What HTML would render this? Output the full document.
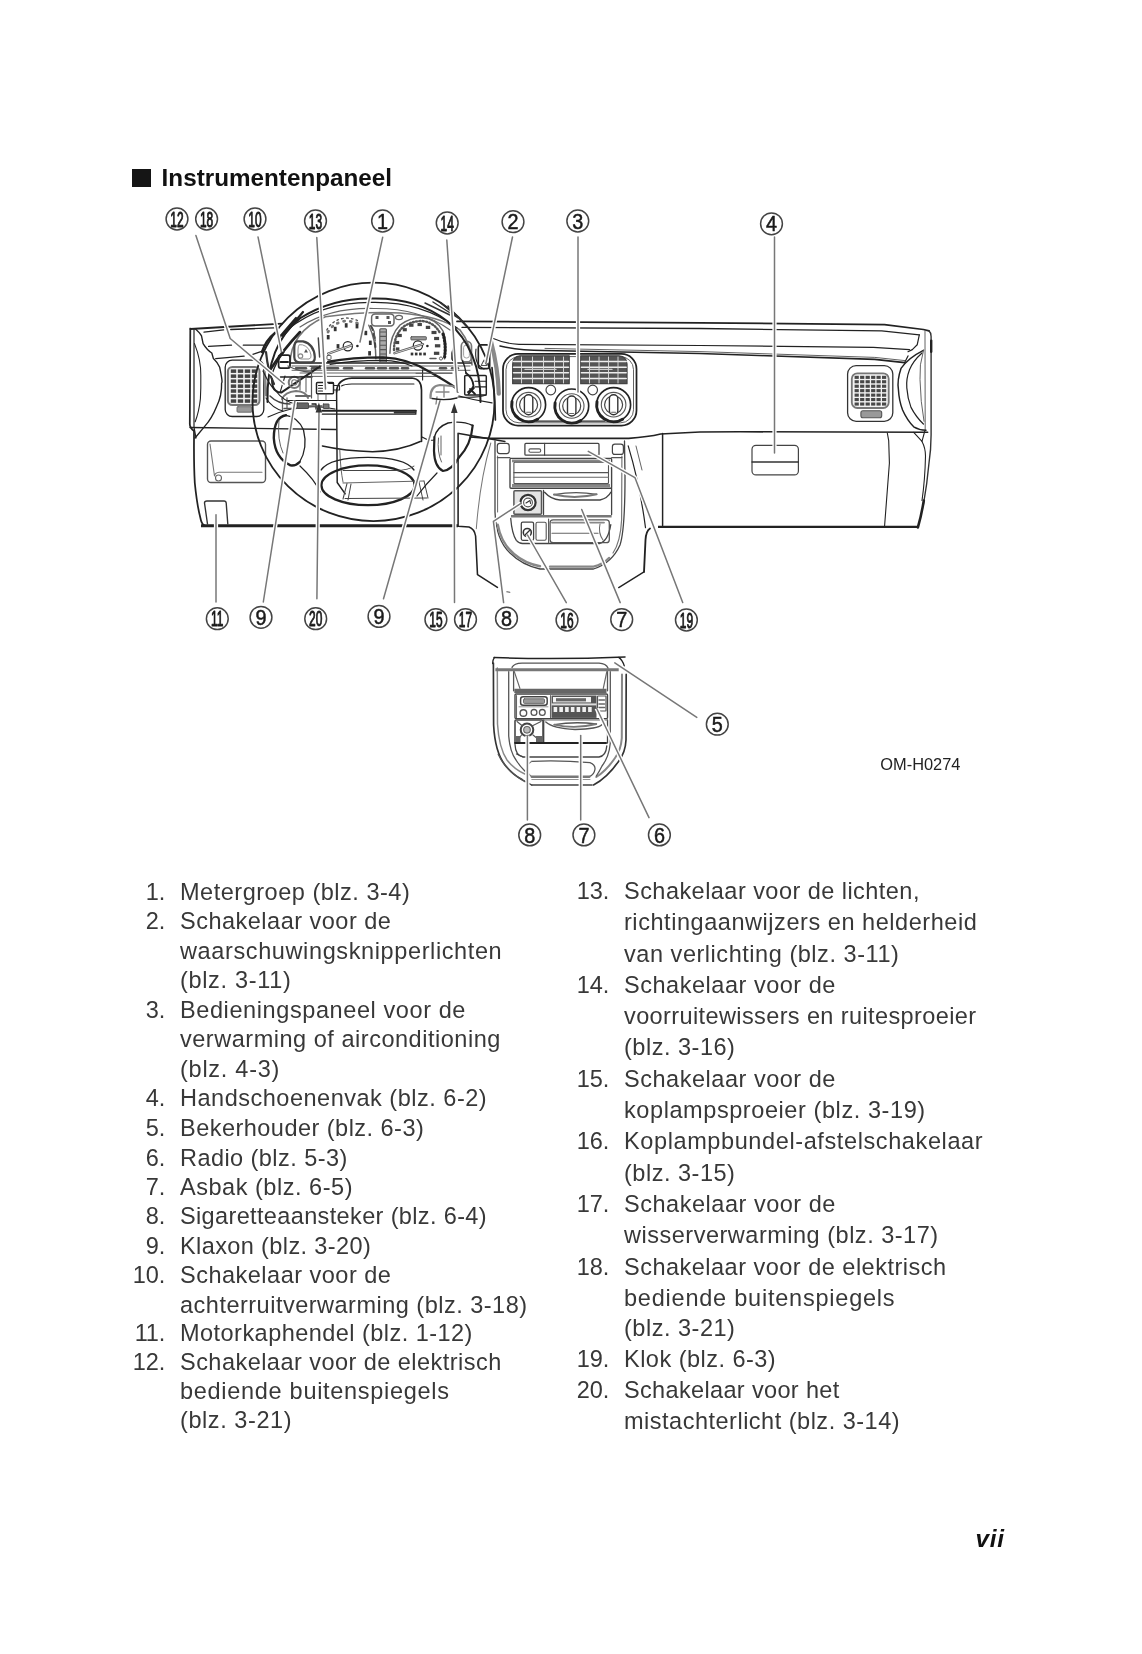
<!DOCTYPE html>
<html><head><meta charset="utf-8"><title>Instrumentenpaneel</title>
<style>
html,body{margin:0;padding:0;background:#fff;}
body{width:1142px;height:1654px;position:relative;overflow:hidden;font-family:"Liberation Sans", sans-serif;color:#222;}
.t{position:absolute;white-space:nowrap;font-size:24.5px;line-height:28px;height:28px;transform:scaleX(0.96);transform-origin:0 0;color:#383838;}
.n{letter-spacing:-0.2px;transform-origin:100% 0;}
.n{text-align:right;}
#h{position:absolute;left:161.6px;top:163.5px;font-size:24.25px;line-height:28px;font-weight:bold;color:#111;white-space:nowrap;}
#sq{position:absolute;left:132px;top:169px;width:19px;height:18px;background:#151515;}
#om{position:absolute;left:880.3px;top:754.6px;font-size:16.4px;line-height:18px;color:#222;white-space:nowrap;}
#pg{position:absolute;left:975.4px;top:1525px;letter-spacing:0.8px;font-size:24.3px;line-height:28px;font-weight:bold;font-style:italic;color:#111;white-space:nowrap;}
svg{position:absolute;left:0;top:0;}
#wrap{position:absolute;left:0;top:0;width:1142px;height:1654px;filter:blur(0.4px);}
</style></head><body><div id="wrap">
<div id="sq"></div><div id="h">Instrumentenpaneel</div>
<div class="t n" style="top:878.2px;left:105.30000000000001px;width:60px">1.</div>
<div class="t" style="top:878.2px;left:180.1px;letter-spacing:0.529px">Metergroep (blz. 3-4)</div>
<div class="t n" style="top:907.3px;left:105.30000000000001px;width:60px">2.</div>
<div class="t" style="top:907.3px;left:180.1px;letter-spacing:0.504px">Schakelaar voor de</div>
<div class="t" style="top:936.7px;left:180.1px;letter-spacing:0.632px">waarschuwingsknipperlichten</div>
<div class="t" style="top:966.2px;left:180.1px;letter-spacing:0.686px">(blz. 3-11)</div>
<div class="t n" style="top:995.8px;left:105.30000000000001px;width:60px">3.</div>
<div class="t" style="top:995.8px;left:180.1px;letter-spacing:0.609px">Bedieningspaneel voor de</div>
<div class="t" style="top:1025.3px;left:180.1px;letter-spacing:0.538px">verwarming of airconditioning</div>
<div class="t" style="top:1054.6px;left:180.1px;letter-spacing:0.765px">(blz. 4-3)</div>
<div class="t n" style="top:1084.2px;left:105.30000000000001px;width:60px">4.</div>
<div class="t" style="top:1084.2px;left:180.1px;letter-spacing:0.521px">Handschoenenvak (blz. 6-2)</div>
<div class="t n" style="top:1113.9px;left:105.30000000000001px;width:60px">5.</div>
<div class="t" style="top:1113.9px;left:180.1px;letter-spacing:0.485px">Bekerhouder (blz. 6-3)</div>
<div class="t n" style="top:1143.6px;left:105.30000000000001px;width:60px">6.</div>
<div class="t" style="top:1143.6px;left:180.1px;letter-spacing:0.449px">Radio (blz. 5-3)</div>
<div class="t n" style="top:1172.9px;left:105.30000000000001px;width:60px">7.</div>
<div class="t" style="top:1172.9px;left:180.1px;letter-spacing:0.541px">Asbak (blz. 6-5)</div>
<div class="t n" style="top:1202.2px;left:105.30000000000001px;width:60px">8.</div>
<div class="t" style="top:1202.2px;left:180.1px;letter-spacing:0.366px">Sigaretteaansteker (blz. 6-4)</div>
<div class="t n" style="top:1231.6px;left:105.30000000000001px;width:60px">9.</div>
<div class="t" style="top:1231.6px;left:180.1px;letter-spacing:0.395px">Klaxon (blz. 3-20)</div>
<div class="t n" style="top:1261.3px;left:105.30000000000001px;width:60px">10.</div>
<div class="t" style="top:1261.3px;left:180.1px;letter-spacing:0.504px">Schakelaar voor de</div>
<div class="t" style="top:1290.6px;left:180.1px;letter-spacing:0.506px">achterruitverwarming (blz. 3-18)</div>
<div class="t n" style="top:1319.4px;left:105.30000000000001px;width:60px">11.</div>
<div class="t" style="top:1319.4px;left:180.1px;letter-spacing:0.472px">Motorkaphendel (blz. 1-12)</div>
<div class="t n" style="top:1348.1px;left:105.30000000000001px;width:60px">12.</div>
<div class="t" style="top:1348.1px;left:180.1px;letter-spacing:0.473px">Schakelaar voor de elektrisch</div>
<div class="t" style="top:1376.9px;left:180.1px;letter-spacing:0.726px">bediende buitenspiegels</div>
<div class="t" style="top:1406.1px;left:180.1px;letter-spacing:0.586px">(blz. 3-21)</div>
<div class="t n" style="top:877.1px;left:549.2px;width:60px">13.</div>
<div class="t" style="top:877.1px;left:624.4px;letter-spacing:0.469px">Schakelaar voor de lichten,</div>
<div class="t" style="top:908.1px;left:624.4px;letter-spacing:0.564px">richtingaanwijzers en helderheid</div>
<div class="t" style="top:939.9px;left:624.4px;letter-spacing:0.554px">van verlichting (blz. 3-11)</div>
<div class="t n" style="top:971.3px;left:549.2px;width:60px">14.</div>
<div class="t" style="top:971.3px;left:624.4px;letter-spacing:0.539px">Schakelaar voor de</div>
<div class="t" style="top:1002.0px;left:624.4px;letter-spacing:0.396px">voorruitewissers en ruitesproeier</div>
<div class="t" style="top:1033.3px;left:624.4px;letter-spacing:0.526px">(blz. 3-16)</div>
<div class="t n" style="top:1064.6px;left:549.2px;width:60px">15.</div>
<div class="t" style="top:1064.6px;left:624.4px;letter-spacing:0.539px">Schakelaar voor de</div>
<div class="t" style="top:1096.0px;left:624.4px;letter-spacing:0.594px">koplampsproeier (blz. 3-19)</div>
<div class="t n" style="top:1127.3px;left:549.2px;width:60px">16.</div>
<div class="t" style="top:1127.3px;left:624.4px;letter-spacing:0.623px">Koplampbundel-afstelschakelaar</div>
<div class="t" style="top:1159.0px;left:624.4px;letter-spacing:0.526px">(blz. 3-15)</div>
<div class="t n" style="top:1189.8px;left:549.2px;width:60px">17.</div>
<div class="t" style="top:1189.8px;left:624.4px;letter-spacing:0.539px">Schakelaar voor de</div>
<div class="t" style="top:1221.1px;left:624.4px;letter-spacing:0.521px">wisserverwarming (blz. 3-17)</div>
<div class="t n" style="top:1252.5px;left:549.2px;width:60px">18.</div>
<div class="t" style="top:1252.5px;left:624.4px;letter-spacing:0.502px">Schakelaar voor de elektrisch</div>
<div class="t" style="top:1283.5px;left:624.4px;letter-spacing:0.801px">bediende buitenspiegels</div>
<div class="t" style="top:1314.3px;left:624.4px;letter-spacing:0.526px">(blz. 3-21)</div>
<div class="t n" style="top:1344.7px;left:549.2px;width:60px">19.</div>
<div class="t" style="top:1344.7px;left:624.4px;letter-spacing:0.492px">Klok (blz. 6-3)</div>
<div class="t n" style="top:1375.7px;left:549.2px;width:60px">20.</div>
<div class="t" style="top:1375.7px;left:624.4px;letter-spacing:0.351px">Schakelaar voor het</div>
<div class="t" style="top:1406.6px;left:624.4px;letter-spacing:0.515px">mistachterlicht (blz. 3-14)</div>
<div id="om">OM-H0274</div>
<div id="pg">vii</div>
<svg width="1142" height="1654" viewBox="0 0 1142 1654" font-family="Liberation Sans, sans-serif" stroke-linecap="round" stroke-linejoin="round">
<path d="M190.5 329 L282 323.6" stroke="#222" stroke-width="1.84" fill="none" />
<path d="M204 332.2 L223.6 329.9 M230.7 329.5 L273.7 327.9" stroke="#222" stroke-width="1.29" fill="none" />
<path d="M457 321.4 L700 322.8 L884.5 324.6 L923.4 329.5 L929 330.9" stroke="#222" stroke-width="1.75" fill="none" />
<path d="M462 327.4 L700 328.5 L881.7 330.9 L919.3 334.8" stroke="#222" stroke-width="1.29" fill="none" />
<path d="M492 338 Q505 344 519 344.3 L700 345.5 L873.4 347.3 L909.5 349.6" stroke="#222" stroke-width="1.20" fill="none" />
<path d="M500 346 Q520 350.5 543.5 350.5 L700 353.5 L874.8 359.4 L904.7 362.6" stroke="#222" stroke-width="1.56" fill="none" />
<path d="M545 348.4 L700 351.6 L874.8 357.4 L905 360.6" stroke="#555" stroke-width="0.92" fill="none" />
<path d="M190.3 328.5 L189.8 424 Q189.8 428 194 431 L194 440 Q193.8 465 194.8 483 Q197 505 200.4 518 Q201.5 524 204 525" stroke="#222" stroke-width="1.75" fill="none" />
<path d="M195.2 328.7 Q200 333 201.5 335.8 L203.1 343.6 Q207 350 211.8 353 L213.4 358.6 Q218 363 219.7 367.3 Q223 383 221.6 383 Q222 396 216.5 406.7 Q212 418 204.7 426.4 L195 438" stroke="#222" stroke-width="1.38" fill="none" />
<path d="M194.5 343.6 Q201 360 200.8 375.2 Q201 388 200.4 398.8 Q199 412 195.2 421.7" stroke="#222" stroke-width="1.10" fill="none" />
<path d="M194 328.7 L194 427 L196 438" stroke="#222" stroke-width="1.20" fill="none" />
<path d="M190 427.5 L336 429.5" stroke="#222" stroke-width="1.38" fill="none" />
<path d="M201 525.7 L458 525.7" stroke="#222" stroke-width="3.13" fill="none" stroke-linecap="butt"/>
<path d="M458.1 433.3 L458.1 526.3 L469 527 Q474.5 529 475.6 536 L477.5 574.7 L497.4 587.4" stroke="#222" stroke-width="1.56" fill="none" />
<path d="M208.6 346.4 L231.5 345.2 M243.3 345.2 L264.6 345.2" stroke="#222" stroke-width="1.29" fill="none" />
<path d="M215.7 358.6 L244.1 356.2 M252.8 354.3 L263.8 350.7" stroke="#222" stroke-width="1.29" fill="none" />
<path d="M207.5 524 L204.5 503 Q204.5 501 207 501 L224 501 Q226 501 226.2 503 L227.8 524" stroke="#333" stroke-width="1.38" fill="none" />
<rect x="207.5" y="441" width="58.0" height="41.5" rx="3.5" stroke="#555" stroke-width="1.38" fill="none"/>
<path d="M210 444 L214.5 476 Q215 472.5 219 472.2 L262 472.2" stroke="#777" stroke-width="1.10" fill="none" />
<circle cx="218.5" cy="478" r="3" stroke="#666" stroke-width="1.10" fill="none"/>
<rect x="225.2" y="360.2" width="38.6" height="56.3" rx="7" stroke="#222" stroke-width="1.29" fill="none"/>
<rect x="227.9" y="366.9" width="31.6" height="38.2" rx="4.5" stroke="#777" stroke-width="2.02" fill="#f2f2f2"/>
<rect x="230.8" y="369.4" width="5.4" height="3.5" fill="#444"/>
<rect x="237.8" y="369.4" width="5.4" height="3.5" fill="#444"/>
<rect x="244.8" y="369.4" width="5.4" height="3.5" fill="#444"/>
<rect x="251.8" y="369.4" width="5.4" height="3.5" fill="#444"/>
<rect x="230.8" y="374.4" width="5.4" height="3.5" fill="#444"/>
<rect x="237.8" y="374.4" width="5.4" height="3.5" fill="#444"/>
<rect x="244.8" y="374.4" width="5.4" height="3.5" fill="#444"/>
<rect x="251.8" y="374.4" width="5.4" height="3.5" fill="#444"/>
<rect x="230.8" y="379.4" width="5.4" height="3.5" fill="#444"/>
<rect x="237.8" y="379.4" width="5.4" height="3.5" fill="#444"/>
<rect x="244.8" y="379.4" width="5.4" height="3.5" fill="#444"/>
<rect x="251.8" y="379.4" width="5.4" height="3.5" fill="#444"/>
<rect x="230.8" y="384.4" width="5.4" height="3.5" fill="#444"/>
<rect x="237.8" y="384.4" width="5.4" height="3.5" fill="#444"/>
<rect x="244.8" y="384.4" width="5.4" height="3.5" fill="#444"/>
<rect x="251.8" y="384.4" width="5.4" height="3.5" fill="#444"/>
<rect x="230.8" y="389.3" width="5.4" height="3.5" fill="#444"/>
<rect x="237.8" y="389.3" width="5.4" height="3.5" fill="#444"/>
<rect x="244.8" y="389.3" width="5.4" height="3.5" fill="#444"/>
<rect x="251.8" y="389.3" width="5.4" height="3.5" fill="#444"/>
<rect x="230.8" y="394.3" width="5.4" height="3.5" fill="#444"/>
<rect x="237.8" y="394.3" width="5.4" height="3.5" fill="#444"/>
<rect x="244.8" y="394.3" width="5.4" height="3.5" fill="#444"/>
<rect x="251.8" y="394.3" width="5.4" height="3.5" fill="#444"/>
<rect x="230.8" y="399.3" width="5.4" height="3.5" fill="#444"/>
<rect x="237.8" y="399.3" width="5.4" height="3.5" fill="#444"/>
<rect x="244.8" y="399.3" width="5.4" height="3.5" fill="#444"/>
<rect x="251.8" y="399.3" width="5.4" height="3.5" fill="#444"/>
<rect x="237" y="406.7" width="15.0" height="5.5" rx="1" stroke="#666" stroke-width="0.92" fill="#999"/>
<path d="M264.5 372 L266 395" stroke="#888" stroke-width="2.76" fill="none" />
<path d="M662.6 433.5 L662.6 525.4" stroke="#222" stroke-width="1.47" fill="none" />
<path d="M658 526.9 L918 526.9" stroke="#222" stroke-width="2.39" fill="none" stroke-linecap="butt"/>
<path d="M887.3 433 L888.7 440.7 L889.4 463 L884.5 527" stroke="#222" stroke-width="1.10" fill="none" />
<rect x="752" y="445.3" width="46.4" height="29.6" rx="4" stroke="#444" stroke-width="1.20" fill="none"/>
<line x1="752" y1="462" x2="798.4" y2="462" stroke="#333" stroke-width="1.29"/>
<path d="M929 330.9 Q931 332.5 931.1 336.4 L931.1 435 Q931 450 929 463 Q927 485 923.4 504.7" stroke="#333" stroke-width="1.38" fill="none" />
<path d="M931.2 340.6 L931.2 351.7" stroke="#222" stroke-width="2.39" fill="none" />
<path d="M923.8 500.5 Q921.5 515 917.9 527.4" stroke="#222" stroke-width="2.58" fill="none" />
<path d="M925 330.9 L925.2 429.6" stroke="#555" stroke-width="0.92" fill="none" />
<path d="M919.3 334.8 L917.2 344.8 L912.3 349.6 L908 351.7" stroke="#222" stroke-width="1.20" fill="none" />
<path d="M908 355.9 L904.7 362.6" stroke="#222" stroke-width="1.20" fill="none" />
<path d="M923.4 350.3 Q908 358 901 368.4 Q897 380 898.4 389.3 Q899 401 902.6 410 Q907 420 913.7 426.8 Q919 430 926 430.3" stroke="#222" stroke-width="1.47" fill="none" />
<path d="M922 353 Q913 361 909.5 369.8 Q906 379 906.8 387.9 Q907.5 398 911 407.4 Q916 417 923.4 424" stroke="#222" stroke-width="1.20" fill="none" />
<path d="M923.6 350 Q919 365 920 379.5 Q920.5 402 924 421.3" stroke="#555" stroke-width="0.92" fill="none" />
<path d="M913.7 432.4 L922 441.4 L924.8 431" stroke="#222" stroke-width="1.10" fill="none" />
<path d="M922 441.4 Q925.5 448 925.5 456 Q925 480 922 500.5" stroke="#222" stroke-width="1.10" fill="none" />
<rect x="847.6" y="365.6" width="45.2" height="55.7" rx="8.5" stroke="#333" stroke-width="1.29" fill="none"/>
<rect x="851.8" y="373.3" width="36.9" height="34.7" rx="5.5" stroke="#777" stroke-width="1.84" fill="#f2f2f2"/>
<rect x="854.6" y="375.8" width="4.2" height="3.1" fill="#484848"/>
<rect x="860.1" y="375.8" width="4.2" height="3.1" fill="#484848"/>
<rect x="865.6" y="375.8" width="4.2" height="3.1" fill="#484848"/>
<rect x="871.1" y="375.8" width="4.2" height="3.1" fill="#484848"/>
<rect x="876.5" y="375.8" width="4.2" height="3.1" fill="#484848"/>
<rect x="882.0" y="375.8" width="4.2" height="3.1" fill="#484848"/>
<rect x="854.6" y="380.2" width="4.2" height="3.1" fill="#484848"/>
<rect x="860.1" y="380.2" width="4.2" height="3.1" fill="#484848"/>
<rect x="865.6" y="380.2" width="4.2" height="3.1" fill="#484848"/>
<rect x="871.1" y="380.2" width="4.2" height="3.1" fill="#484848"/>
<rect x="876.5" y="380.2" width="4.2" height="3.1" fill="#484848"/>
<rect x="882.0" y="380.2" width="4.2" height="3.1" fill="#484848"/>
<rect x="854.6" y="384.7" width="4.2" height="3.1" fill="#484848"/>
<rect x="860.1" y="384.7" width="4.2" height="3.1" fill="#484848"/>
<rect x="865.6" y="384.7" width="4.2" height="3.1" fill="#484848"/>
<rect x="871.1" y="384.7" width="4.2" height="3.1" fill="#484848"/>
<rect x="876.5" y="384.7" width="4.2" height="3.1" fill="#484848"/>
<rect x="882.0" y="384.7" width="4.2" height="3.1" fill="#484848"/>
<rect x="854.6" y="389.1" width="4.2" height="3.1" fill="#484848"/>
<rect x="860.1" y="389.1" width="4.2" height="3.1" fill="#484848"/>
<rect x="865.6" y="389.1" width="4.2" height="3.1" fill="#484848"/>
<rect x="871.1" y="389.1" width="4.2" height="3.1" fill="#484848"/>
<rect x="876.5" y="389.1" width="4.2" height="3.1" fill="#484848"/>
<rect x="882.0" y="389.1" width="4.2" height="3.1" fill="#484848"/>
<rect x="854.6" y="393.6" width="4.2" height="3.1" fill="#484848"/>
<rect x="860.1" y="393.6" width="4.2" height="3.1" fill="#484848"/>
<rect x="865.6" y="393.6" width="4.2" height="3.1" fill="#484848"/>
<rect x="871.1" y="393.6" width="4.2" height="3.1" fill="#484848"/>
<rect x="876.5" y="393.6" width="4.2" height="3.1" fill="#484848"/>
<rect x="882.0" y="393.6" width="4.2" height="3.1" fill="#484848"/>
<rect x="854.6" y="398.0" width="4.2" height="3.1" fill="#484848"/>
<rect x="860.1" y="398.0" width="4.2" height="3.1" fill="#484848"/>
<rect x="865.6" y="398.0" width="4.2" height="3.1" fill="#484848"/>
<rect x="871.1" y="398.0" width="4.2" height="3.1" fill="#484848"/>
<rect x="876.5" y="398.0" width="4.2" height="3.1" fill="#484848"/>
<rect x="882.0" y="398.0" width="4.2" height="3.1" fill="#484848"/>
<rect x="854.6" y="402.5" width="4.2" height="3.1" fill="#484848"/>
<rect x="860.1" y="402.5" width="4.2" height="3.1" fill="#484848"/>
<rect x="865.6" y="402.5" width="4.2" height="3.1" fill="#484848"/>
<rect x="871.1" y="402.5" width="4.2" height="3.1" fill="#484848"/>
<rect x="876.5" y="402.5" width="4.2" height="3.1" fill="#484848"/>
<rect x="882.0" y="402.5" width="4.2" height="3.1" fill="#484848"/>
<rect x="860.9" y="410.8" width="20.8" height="7.0" rx="2" stroke="#555" stroke-width="1.10" fill="#999"/>
<path d="M290 365 Q290 332 325.4 316.8 Q366 311 400 313 Q440 316 460 330 Q472 345 472 365" stroke="#777" stroke-width="1.66" fill="none" />
<path d="M290 363 L471 363" stroke="#222" stroke-width="1.47" fill="none" />
<path d="M292 366 L470 366 M292 370.3 L470 370.3" stroke="#555" stroke-width="0.92" fill="none" />
<line x1="296" y1="368.2" x2="306" y2="368.2" stroke="#555" stroke-width="2.39"/>
<line x1="312" y1="368.2" x2="320" y2="368.2" stroke="#555" stroke-width="2.39"/>
<line x1="326" y1="368.2" x2="338" y2="368.2" stroke="#555" stroke-width="2.39"/>
<line x1="344" y1="368.2" x2="352" y2="368.2" stroke="#555" stroke-width="2.39"/>
<line x1="366" y1="368.2" x2="374" y2="368.2" stroke="#555" stroke-width="2.39"/>
<line x1="378" y1="368.2" x2="386" y2="368.2" stroke="#555" stroke-width="2.39"/>
<line x1="390" y1="368.2" x2="398" y2="368.2" stroke="#555" stroke-width="2.39"/>
<line x1="402" y1="368.2" x2="408" y2="368.2" stroke="#555" stroke-width="2.39"/>
<line x1="440" y1="368.2" x2="446" y2="368.2" stroke="#555" stroke-width="2.39"/>
<line x1="452" y1="368.2" x2="458" y2="368.2" stroke="#555" stroke-width="2.39"/>
<path d="M300 373 L452 373 M300 376.4 L440 376.4" stroke="#555" stroke-width="0.92" fill="none" />
<path d="M326.8 330 Q332 320 345 318 Q354 318 360 322" stroke="#555" stroke-width="1.38" fill="none" stroke-dasharray="1.6 3.2"/>
<path d="M328 332 Q333 323 345 321 Q353 321 359 324" stroke="#777" stroke-width="2.76" fill="none" stroke-dasharray="1 5.5"/>
<rect x="333.8" y="326.8" width="2.8" height="4.4" fill="#333"/>
<rect x="344.8" y="323.2" width="2.8" height="4.4" fill="#333"/>
<rect x="355.6" y="324.0" width="2.8" height="4.4" fill="#333"/>
<rect x="364.40000000000003" y="330.8" width="2.8" height="4.4" fill="#333"/>
<rect x="368.90000000000003" y="340.6" width="2.8" height="4.4" fill="#333"/>
<rect x="368.20000000000005" y="351.1" width="2.8" height="4.4" fill="#333"/>
<rect x="326.8" y="335.0" width="2.8" height="4.4" fill="#333"/>
<rect x="336.6" y="344.1" width="2.8" height="4.4" fill="#333"/>
<path d="M368.8 325.2 Q375.9 340 375.9 358.8" stroke="#666" stroke-width="1.47" fill="none" />
<path d="M371 326 L373 330 M373.5 334 L374.7 338 M375 343 L375.4 347" stroke="#444" stroke-width="2.02" fill="none" />
<circle cx="347.8" cy="346.2" r="4.6" stroke="#222" stroke-width="1.20" fill="none"/>
<path d="M328.2 353.6 L352 345.2" stroke="#555" stroke-width="2.39" fill="none" />
<path d="M328.2 353.6 L352 345.2" stroke="#fff" stroke-width="0.74" fill="none" />
<circle cx="357.4" cy="346" r="1.3" stroke="#222" stroke-width="0.00" fill="#222"/>
<rect x="327" y="355.5" width="4.0" height="4.0" rx="0.5" stroke="#555" stroke-width="0.92" fill="none"/>
<rect x="379.8" y="328.7" width="6.6" height="33.6" rx="1" stroke="#555" stroke-width="1.10" fill="#aaa"/>
<line x1="380.4" y1="332.0" x2="385.8" y2="332.0" stroke="#555" stroke-width="1.10"/>
<line x1="380.4" y1="336.4" x2="385.8" y2="336.4" stroke="#555" stroke-width="1.10"/>
<line x1="380.4" y1="340.8" x2="385.8" y2="340.8" stroke="#555" stroke-width="1.10"/>
<line x1="380.4" y1="345.2" x2="385.8" y2="345.2" stroke="#555" stroke-width="1.10"/>
<line x1="380.4" y1="349.6" x2="385.8" y2="349.6" stroke="#555" stroke-width="1.10"/>
<line x1="380.4" y1="354.0" x2="385.8" y2="354.0" stroke="#555" stroke-width="1.10"/>
<line x1="380.4" y1="358.4" x2="385.8" y2="358.4" stroke="#555" stroke-width="1.10"/>
<rect x="371.6" y="314" width="22.4" height="12.0" rx="3.5" stroke="#666" stroke-width="1.47" fill="none"/>
<rect x="375.5" y="316.0" width="3" height="3" fill="#555"/>
<rect x="386.5" y="316.0" width="3" height="3" fill="#555"/>
<rect x="388.0" y="321.0" width="3" height="3" fill="#555"/>
<ellipse cx="399" cy="317.5" rx="3.5" ry="2.1" stroke="#666" stroke-width="1.20" fill="none"/>
<path d="M389.9 353.2 Q390 335 400 325 Q410 317.5 422 317.5 Q436 318.5 443 331 Q447.5 342 444.5 358.8" stroke="#666" stroke-width="1.47" fill="none" />
<path d="M394 350 Q394 336 402.5 327.5 Q411 321 422 321 Q434 322 440 333" stroke="#555" stroke-width="2.39" fill="none" stroke-dasharray="1.1 2.2"/>
<path d="M443 334 Q446.3 345 444.6 357" stroke="#222" stroke-width="3.13" fill="none" stroke-dasharray="1.2 2"/>
<rect x="397.40000000000003" y="333.9" width="4.4" height="3.2" fill="#444"/>
<rect x="395.2" y="340.9" width="4" height="3.2" fill="#444"/>
<rect x="395.8" y="347.4" width="3.6" height="3.2" fill="#444"/>
<rect x="402.8" y="328.09999999999997" width="4" height="3.2" fill="#444"/>
<rect x="409.1" y="323.59999999999997" width="4.4" height="3.2" fill="#444"/>
<rect x="417.5" y="322.9" width="4.4" height="3.2" fill="#444"/>
<rect x="425.8" y="325.79999999999995" width="4.4" height="3.2" fill="#444"/>
<rect x="431.5" y="330.9" width="5" height="3.2" fill="#444"/>
<rect x="434.1" y="336.9" width="5" height="3.2" fill="#444"/>
<rect x="434.90000000000003" y="344.2" width="5.4" height="3.2" fill="#444"/>
<rect x="433.90000000000003" y="351.7" width="5.4" height="3.2" fill="#444"/>
<rect x="410.9" y="336.7" width="15.4" height="3.2" rx="0.5" stroke="#555" stroke-width="0.92" fill="#999"/>
<circle cx="417.9" cy="345.5" r="4.6" stroke="#222" stroke-width="1.20" fill="none"/>
<path d="M394.5 353.2 L423 344.2" stroke="#555" stroke-width="2.39" fill="none" />
<path d="M394.5 353.2 L423 344.2" stroke="#fff" stroke-width="0.74" fill="none" />
<circle cx="427.4" cy="346" r="1.3" stroke="#222" stroke-width="0.00" fill="#222"/>
<rect x="410.7" y="352.6" width="2.6" height="2.8" fill="#333"/>
<rect x="414.9" y="352.6" width="2.6" height="2.8" fill="#333"/>
<rect x="419.09999999999997" y="352.6" width="2.6" height="2.8" fill="#333"/>
<rect x="423.3" y="352.6" width="2.6" height="2.8" fill="#333"/>
<path d="M430 358.5 L436 358.5" stroke="#555" stroke-width="1.47" fill="none" />
<circle cx="441" cy="358.5" r="1.6" stroke="#555" stroke-width="0.92" fill="none"/>
<path d="M297.5 341.4 Q294.3 342 294.3 348 L294.3 357 Q294.5 362.4 300 362.4 L311 362.4 Q315 362 314.8 357 Q314 344 303 341.4 Z" stroke="#444" stroke-width="2.21" fill="none" />
<path d="M299 345 Q298 346 298 350 L298 356 Q298 359 301 359 L309 359 Q311.5 358.5 311 355 Q309.5 347 303 345 Z" stroke="#888" stroke-width="0.92" fill="none" />
<path d="M306 349 L308 352.5 L304 352.5 Z" fill="#555"/>
<circle cx="300.5" cy="356" r="2.2" stroke="#888" stroke-width="1.20" fill="none"/>
<rect x="461.3" y="341.4" width="10.2" height="20.5" rx="4.5" stroke="#777" stroke-width="1.66" fill="none"/>
<rect x="463.6" y="345" width="5.8" height="13.0" rx="2.6" stroke="#999" stroke-width="0.92" fill="none"/>
<path d="M453.8 347.5 Q451.5 353 452.2 359 Q453 361.5 455.5 361" stroke="#333" stroke-width="2.02" fill="none" />
<path d="M374 331 L375.2 341" stroke="#555" stroke-width="1.29" fill="none" />
<path d="M318.3 338 L319.6 357" stroke="#444" stroke-width="1.47" fill="none" />
<ellipse cx="373.5" cy="401.9" rx="121" ry="119.2" stroke="#222" stroke-width="1.84" fill="none"/>
<path d="M267.5 402 Q266 345 300.5 318 Q333 297.5 373.5 298.5 Q418 298 447 321 Q481 350 480.5 402" stroke="#222" stroke-width="2.02" fill="none" />
<path d="M287 330 Q322 301.5 373.5 302.4 Q423 302 457 328" stroke="#222" stroke-width="1.29" fill="none" />
<path d="M300 327 Q330 307.5 373.5 308.5 Q420 308 450 330" stroke="#666" stroke-width="1.20" fill="none" />
<path d="M425 303 L452 316 M433 302 L458 318 M441 303 L462 321 M448 306 L466 326" stroke="#333" stroke-width="1.47" fill="none" />
<path d="M296 318 L278 339 M303 312 L283 336" stroke="#222" stroke-width="2.21" fill="none" />
<path d="M262 352 Q266 340 275 333" stroke="#222" stroke-width="2.39" fill="none" />
<path d="M270 370 Q283 350 300 332" stroke="#222" stroke-width="2.58" fill="none" />
<path d="M272 374 Q276 362 284 352" stroke="#222" stroke-width="1.29" fill="none" />
<path d="M491 341.5 Q498 368 498.8 393.7" stroke="#8a8a8a" stroke-width="4.23" fill="none" />
<path d="M492 367.6 Q495 395 495.4 420" stroke="#222" stroke-width="1.66" fill="none" />
<path d="M328.2 361.8 Q352 357.4 383 357.4 Q408 358.5 429 371.5 Q446 381 457.9 389.2" stroke="#222" stroke-width="2.39" fill="none" />
<path d="M330 364.5 Q352 360.4 383 360.4 Q400 361 412 366" stroke="#222" stroke-width="1.10" fill="none" />
<path d="M336.6 392 Q337 379 351.8 378.2 L412 378 Q421.5 379 421.5 390 L421.5 441.5" stroke="#222" stroke-width="1.66" fill="none" />
<path d="M341.5 386 Q344 384.2 351.8 384 L414 384" stroke="#222" stroke-width="1.01" fill="none" />
<path d="M322.4 446 Q345 451 372.5 451.7 Q400 451 420.3 441.5" stroke="#222" stroke-width="1.47" fill="none" />
<path d="M322.4 410.7 L415.8 410.7" stroke="#222" stroke-width="2.02" fill="none" />
<path d="M322.4 414.2 L415.8 414.2 L415.8 410.7" stroke="#222" stroke-width="1.29" fill="none" />
<path d="M395 412.4 L415 412.4" stroke="#333" stroke-width="2.39" fill="none" />
<path d="M336.6 390 L337.2 482.5 L345.2 493.8" stroke="#222" stroke-width="1.47" fill="none" />
<path d="M339.8 450 Q340.5 470 343 482" stroke="#555" stroke-width="0.92" fill="none" />
<ellipse cx="368" cy="485.3" rx="46.6" ry="19.9" stroke="#222" stroke-width="2.30" fill="none"/>
<path d="M321 470 Q330 457.5 368 457.4 Q405 457.5 414 470" stroke="#222" stroke-width="1.29" fill="none" />
<path d="M345 498.4 L427 498" stroke="#444" stroke-width="1.01" fill="none" />
<path d="M343 470.5 L395 470.5 Q410 470 414 466" stroke="#444" stroke-width="1.01" fill="none" />
<path d="M347 483.5 L343 499 M351 484 L348 500" stroke="#444" stroke-width="1.01" fill="none" />
<path d="M424 481 L428 498 M419 482 L423 500" stroke="#444" stroke-width="1.01" fill="none" />
<path d="M343 483 L424 481" stroke="#555" stroke-width="0.92" fill="none" />
<path d="M286 415.3 Q274 417 273.8 438 Q275 458 290.5 465.4 Q296 466 299.6 462" stroke="#222" stroke-width="2.39" fill="none" />
<path d="M286 415.3 Q298 417 303.5 430 Q308 448 299.6 462" stroke="#222" stroke-width="1.29" fill="none" />
<path d="M279 420 Q277 440 283 453" stroke="#555" stroke-width="0.92" fill="none" />
<path d="M472.7 425.5 Q471 445 459 457.4 Q452 470 443 471 Q434.5 467 434 451 L434.4 437" stroke="#222" stroke-width="2.21" fill="none" />
<path d="M434.4 437 Q437 427 448 423 Q462 420.5 472.7 425.5" stroke="#222" stroke-width="1.38" fill="none" />
<path d="M438.5 438 Q437 452 441.5 462 M441 436 L441 455" stroke="#555" stroke-width="0.92" fill="none" />
<path d="M268 417 Q300 402 335 409" stroke="#222" stroke-width="1.20" fill="none" />
<path d="M300 466 Q315 480 320 492" stroke="#222" stroke-width="1.20" fill="none" />
<path d="M437 473 Q426 484 417 496" stroke="#222" stroke-width="1.20" fill="none" />
<path d="M459 433.5 L505 441.5" stroke="#222" stroke-width="1.29" fill="none" />
<path d="M459 396 Q475 400.5 492 402.9" stroke="#222" stroke-width="1.29" fill="none" />
<path d="M422 437 Q428 441 434 440" stroke="#222" stroke-width="1.10" fill="none" />
<path d="M272 379 Q272 388 275.5 390.5 Q278 392.6 281.2 392.6 L319.9 366.4" stroke="#222" stroke-width="2.02" fill="none" />
<path d="M280 392.6 L285 376" stroke="#222" stroke-width="1.10" fill="none" />
<circle cx="294.3" cy="382.4" r="5.6" stroke="#777" stroke-width="2.02" fill="none"/>
<circle cx="294.3" cy="382.4" r="2.6" stroke="#777" stroke-width="1.10" fill="none"/>
<path d="M280.5 377 L312 377" stroke="#222" stroke-width="1.29" fill="none" />
<path d="M282 399 Q285 392 296 391 Q306 391.5 308 398" stroke="#777" stroke-width="2.02" fill="none" />
<path d="M282.5 399 L282.5 410 M287 398 L287 408" stroke="#666" stroke-width="1.29" fill="none" />
<rect x="297" y="402.9" width="11.5" height="5.6" rx="0.5" stroke="#444" stroke-width="0.92" fill="#666"/>
<path d="M288 400.5 L336 400.5" stroke="#222" stroke-width="1.20" fill="none" />
<path d="M310 366.4 L318 366.4 M311.5 368.5 L311.5 398" stroke="#555" stroke-width="1.20" fill="none" />
<rect x="316.5" y="382.4" width="17.0" height="11.3" rx="1" stroke="#222" stroke-width="1.47" fill="none"/>
<path d="M318.5 385.5 L322.5 385.5 M318.5 388.2 L322.5 388.2 M318.5 391 L322.5 391" stroke="#222" stroke-width="1.10" fill="none" />
<path d="M329 383 L333 383" stroke="#222" stroke-width="1.84" fill="none" />
<path d="M333.5 385.5 L339.5 385.5 L339.5 390 L333.5 390" stroke="#222" stroke-width="1.20" fill="none" />
<path d="M318 394 L318 400 M326 394 L326 400" stroke="#555" stroke-width="0.92" fill="none" />
<rect x="323.3" y="404" width="5.7" height="4.5" rx="0.3" stroke="#444" stroke-width="0.92" fill="#777"/>
<path d="M312 404 L316 404 L316 409" stroke="#222" stroke-width="1.29" fill="none" />
<rect x="278.6" y="355" width="11.4" height="13.0" rx="2" stroke="#222" stroke-width="1.75" fill="none"/>
<path d="M280.6 362 L288 362" stroke="#222" stroke-width="2.02" fill="none" />
<path d="M263 371 Q270 386 275 390 Q284 402 296 404" stroke="#222" stroke-width="1.20" fill="none" />
<path d="M266 398 Q272 408 283 411" stroke="#222" stroke-width="1.10" fill="none" />
<path d="M266 352 Q268 372 274 384" stroke="#333" stroke-width="2.21" fill="none" />
<path d="M270 396 Q278 404 290 404" stroke="#444" stroke-width="1.47" fill="none" />
<path d="M288 366 Q300 372 310 372" stroke="#555" stroke-width="1.29" fill="none" />
<path d="M300 377 L300 390 M306 377 L306 392" stroke="#666" stroke-width="1.10" fill="none" />
<path d="M296 396 L310 396" stroke="#666" stroke-width="2.02" fill="none" />
<path d="M284 408.5 L296 408.5 M309 406 L322 406" stroke="#555" stroke-width="1.47" fill="none" />
<path d="M430.5 398 Q430 386 440 385 L452 386 Q458 387 457.9 392" stroke="#888" stroke-width="2.21" fill="none" />
<path d="M436 392 L449 392 M444 386 L444 397 M437 397 L436 404" stroke="#888" stroke-width="1.38" fill="none" />
<path d="M432 398.5 Q445 401 457 398" stroke="#222" stroke-width="1.29" fill="none" />
<rect x="464.7" y="375.5" width="21.6" height="19.4" rx="1" stroke="#222" stroke-width="1.47" fill="none"/>
<path d="M475 381.2 L486 381.2 M475 386.9 L486 386.9" stroke="#222" stroke-width="1.10" fill="none" />
<path d="M466 373 Q473 378 473.5 386 Q472 390 468 392 M470 389 L475 394 M474 388 L468.5 394" stroke="#222" stroke-width="1.84" fill="none" />
<path d="M466 373 Q465 366 462.5 361" stroke="#222" stroke-width="1.47" fill="none" />
<path d="M486.3 395 Q478 398 458 397" stroke="#222" stroke-width="1.20" fill="none" />
<rect x="478.3" y="344.8" width="11.4" height="23.9" rx="3" stroke="#222" stroke-width="1.66" fill="none"/>
<path d="M481.2 365.5 L484 360 L486.8 365.5 Z" stroke="#555" stroke-width="1.01" fill="none" />
<path d="M476 349 Q474 365 484 369" stroke="#222" stroke-width="1.10" fill="none" />
<path d="M422.6 369.8 L422.6 380" stroke="#222" stroke-width="1.10" fill="none" />
<path d="M416 373.3 L452 373.3" stroke="#555" stroke-width="0.92" fill="none" />
<rect x="503" y="353.9" width="133.5" height="71.7" rx="15" stroke="#222" stroke-width="1.75" fill="none"/>
<rect x="506" y="356.6" width="127.5" height="66.2" rx="13" stroke="#555" stroke-width="0.92" fill="none"/>
<path d="M520 355.8 L569.2 355.8 L569.2 383.7 L512.7 383.7 L512.7 364 Q513 356.5 520 355.8 Z" stroke="#444" stroke-width="1.29" fill="#555" />
<path d="M580.6 355.8 L619 355.8 Q626.6 356.5 627 364 L627 383.7 L580.6 383.7 Z" stroke="#444" stroke-width="1.29" fill="#555" />
<line x1="513.5" y1="361.6" x2="568.5" y2="361.6" stroke="#eee" stroke-width="1.47"/>
<line x1="581.4" y1="361.6" x2="626.2" y2="361.6" stroke="#eee" stroke-width="1.47"/>
<line x1="513.5" y1="367.2" x2="568.5" y2="367.2" stroke="#eee" stroke-width="1.47"/>
<line x1="581.4" y1="367.2" x2="626.2" y2="367.2" stroke="#eee" stroke-width="1.47"/>
<line x1="513.5" y1="372.8" x2="568.5" y2="372.8" stroke="#eee" stroke-width="1.47"/>
<line x1="581.4" y1="372.8" x2="626.2" y2="372.8" stroke="#eee" stroke-width="1.47"/>
<line x1="513.5" y1="378.4" x2="568.5" y2="378.4" stroke="#eee" stroke-width="1.47"/>
<line x1="581.4" y1="378.4" x2="626.2" y2="378.4" stroke="#eee" stroke-width="1.47"/>
<line x1="521.5" y1="357" x2="521.5" y2="383" stroke="#ddd" stroke-width="0.92"/>
<line x1="532.5" y1="357" x2="532.5" y2="383" stroke="#ddd" stroke-width="0.92"/>
<line x1="543.5" y1="357" x2="543.5" y2="383" stroke="#ddd" stroke-width="0.92"/>
<line x1="554.5" y1="357" x2="554.5" y2="383" stroke="#ddd" stroke-width="0.92"/>
<line x1="563.5" y1="357" x2="563.5" y2="383" stroke="#ddd" stroke-width="0.92"/>
<line x1="589.5" y1="357" x2="589.5" y2="383" stroke="#ddd" stroke-width="0.92"/>
<line x1="599" y1="357" x2="599" y2="383" stroke="#ddd" stroke-width="0.92"/>
<line x1="608.5" y1="357" x2="608.5" y2="383" stroke="#ddd" stroke-width="0.92"/>
<line x1="618" y1="357" x2="618" y2="383" stroke="#ddd" stroke-width="0.92"/>
<line x1="525" y1="369.4" x2="556" y2="369.4" stroke="#ccc" stroke-width="1.29"/>
<line x1="588" y1="369.4" x2="612" y2="369.4" stroke="#ccc" stroke-width="1.29"/>
<circle cx="528.6" cy="404.7" r="17" stroke="#222" stroke-width="1.66" fill="none"/>
<path d="M512.0 401.7 A17 17 0 0 0 537.6 419.3" stroke="#222" stroke-width="3" fill="none"/>
<circle cx="528.6" cy="404.7" r="12.3" stroke="#555" stroke-width="1.10" fill="none"/>
<circle cx="528.6" cy="404.7" r="9" stroke="#444" stroke-width="1.20" fill="none"/>
<rect x="524.4" y="394.7" width="8.4" height="20.0" rx="4" stroke="#333" stroke-width="1.38" fill="#fff"/>
<line x1="526.6" y1="412.2" x2="530.6" y2="412.2" stroke="#666" stroke-width="1.10"/>
<circle cx="571.7" cy="406" r="17" stroke="#222" stroke-width="1.66" fill="none"/>
<path d="M555.1 403 A17 17 0 0 0 580.7 420.6" stroke="#222" stroke-width="3" fill="none"/>
<circle cx="571.7" cy="406" r="12.3" stroke="#555" stroke-width="1.10" fill="none"/>
<circle cx="571.7" cy="406" r="9" stroke="#444" stroke-width="1.20" fill="none"/>
<rect x="567.5" y="396" width="8.4" height="20.0" rx="4" stroke="#333" stroke-width="1.38" fill="#fff"/>
<line x1="569.7" y1="413.5" x2="573.7" y2="413.5" stroke="#666" stroke-width="1.10"/>
<circle cx="613.6" cy="404.7" r="17" stroke="#222" stroke-width="1.66" fill="none"/>
<path d="M597.0 401.7 A17 17 0 0 0 622.6 419.3" stroke="#222" stroke-width="3" fill="none"/>
<circle cx="613.6" cy="404.7" r="12.3" stroke="#555" stroke-width="1.10" fill="none"/>
<circle cx="613.6" cy="404.7" r="9" stroke="#444" stroke-width="1.20" fill="none"/>
<rect x="609.4" y="394.7" width="8.4" height="20.0" rx="4" stroke="#333" stroke-width="1.38" fill="#fff"/>
<line x1="611.6" y1="412.2" x2="615.6" y2="412.2" stroke="#666" stroke-width="1.10"/>
<path d="M536 421.2 L563 421.2 M581 421.2 L605 421.2" stroke="#222" stroke-width="1.29" fill="none" />
<circle cx="550.8" cy="390" r="4.8" stroke="#444" stroke-width="1.20" fill="none"/>
<circle cx="592.7" cy="390" r="4.8" stroke="#444" stroke-width="1.20" fill="none"/>
<path d="M470 437 L489 438.4 L628.8 438.4 Q648 437 660.6 434 L700 432 L740 431.8 L927.7 432.2" stroke="#222" stroke-width="1.56" fill="none" />
<path d="M495 441 L495 512 Q496 540 510 553 Q522 565 540 569 L593.5 569 Q612 563 620 545 Q625 530 625 477 L624.5 441" stroke="#444" stroke-width="1.29" fill="none" />
<path d="M497.6 456 L497.6 512" stroke="#666" stroke-width="1.01" fill="none" />
<path d="M497.8 524.6 Q501 543 514 554 Q525 563.5 540 566.2" stroke="#888" stroke-width="2.39" fill="none" />
<path d="M550 566.6 L593.5 566.6 Q603 564.5 609 558" stroke="#888" stroke-width="2.39" fill="none" />
<path d="M613 553 Q620.5 542 621.6 520 L621.9 456" stroke="#777" stroke-width="1.20" fill="none" />
<rect x="497.3" y="443.4" width="11.9" height="10.2" rx="2.5" stroke="#444" stroke-width="1.20" fill="none"/>
<rect x="612.4" y="444.2" width="11.0" height="10.2" rx="2.5" stroke="#444" stroke-width="1.20" fill="none"/>
<rect x="524.9" y="443.4" width="74.1" height="11.8" rx="1" stroke="#444" stroke-width="1.29" fill="none"/>
<line x1="544.6" y1="443.4" x2="544.6" y2="455.2" stroke="#444" stroke-width="1.10"/>
<rect x="528.9" y="448.9" width="11.8" height="3.3" rx="1.5" stroke="#555" stroke-width="1.10" fill="none"/>
<path d="M497.3 457.6 L510 457.6 M611.6 457.6 L622 457.6" stroke="#555" stroke-width="1.10" fill="none" />
<rect x="510" y="458.4" width="101.6" height="29.9" rx="1" stroke="#444" stroke-width="1.38" fill="none"/>
<path d="M512 460.9 L610 460.9" stroke="#888" stroke-width="2.76" fill="none" stroke-linecap="butt"/>
<path d="M512 485.6 L610 485.6" stroke="#888" stroke-width="3.13" fill="none" stroke-linecap="butt"/>
<rect x="513.9" y="462.3" width="94.6" height="21.3" rx="1" stroke="#555" stroke-width="1.10" fill="none"/>
<line x1="513.9" y1="472.6" x2="608.5" y2="472.6" stroke="#555" stroke-width="1.20"/>
<line x1="513.9" y1="477.3" x2="608.5" y2="477.3" stroke="#666" stroke-width="1.10"/>
<rect x="513.9" y="490.7" width="27.6" height="23.6" rx="1" stroke="#555" stroke-width="1.47" fill="#e4e4e4"/>
<circle cx="528" cy="502.5" r="7.6" stroke="#333" stroke-width="2.21" fill="#fff"/>
<circle cx="528" cy="502.5" r="4.4" stroke="#555" stroke-width="1.10" fill="none"/>
<path d="M526 503 L530 500.5 L530.5 503.5" stroke="#333" stroke-width="1.10" fill="none" />
<path d="M543.5 490.5 L543.5 514.5 M611.6 488 L611.6 514.5" stroke="#444" stroke-width="1.29" fill="none" />
<path d="M544.6 492.3 Q551 499.5 560 500 L600 500 Q608 498 610.8 492.3" stroke="#444" stroke-width="1.38" fill="none" />
<path d="M554 494.6 Q575 491 596.6 494.3" stroke="#555" stroke-width="1.20" fill="none" />
<path d="M554 494.6 Q575 499.6 596.6 494.3" stroke="#777" stroke-width="2.02" fill="none" />
<path d="M511 516.2 L611.6 516.2" stroke="#777" stroke-width="2.39" fill="none" stroke-linecap="butt"/>
<path d="M510.7 518.3 Q512 534 516.3 540.3 Q519 543.5 522.6 543.5 L599.8 543.5 Q608 541 610.8 524.6" stroke="#444" stroke-width="1.29" fill="none" />
<rect x="521.3" y="522.2" width="12.3" height="18.1" rx="1.5" stroke="#444" stroke-width="1.29" fill="none"/>
<rect x="536" y="522.2" width="10.2" height="18.1" rx="1.5" stroke="#555" stroke-width="1.10" fill="none"/>
<line x1="548.6" y1="519" x2="548.6" y2="543" stroke="#555" stroke-width="1.10"/>
<rect x="550.1" y="519.8" width="59.2" height="22.9" rx="3" stroke="#555" stroke-width="1.29" fill="none"/>
<path d="M552 533.2 L598 533.2" stroke="#666" stroke-width="1.10" fill="none" />
<path d="M552 522.6 L604 522.6" stroke="#888" stroke-width="1.84" fill="none" />
<path d="M600 524 Q598 533 603 540" stroke="#666" stroke-width="1.01" fill="none" />
<circle cx="527.3" cy="532.5" r="4" stroke="#333" stroke-width="1.56" fill="none"/>
<path d="M525.5 534.5 L529.5 530.5" stroke="#333" stroke-width="1.29" fill="none" />
<path d="M490.8 443 Q480 480 476.3 528.8" stroke="#777" stroke-width="1.01" fill="none" />
<path d="M628.2 445.8 Q640 485 645.5 527.7" stroke="#222" stroke-width="1.20" fill="none" />
<path d="M636 446 L642 470" stroke="#555" stroke-width="0.92" fill="none" />
<path d="M650 528.5 Q646 531 645.5 540 L644 571.9" stroke="#222" stroke-width="1.84" fill="none" />
<path d="M644 571.9 L618.7 587.6" stroke="#222" stroke-width="1.38" fill="none" />
<path d="M506.8 591.8 L509.8 592.3" stroke="#555" stroke-width="1.10" fill="none" />
<path d="M494 657.6 Q560 659.6 625 656.9" stroke="#222" stroke-width="1.47" fill="none" />
<path d="M494.5 657.4 Q492.5 660 492.6 663.5" stroke="#222" stroke-width="1.29" fill="none" />
<path d="M618.7 657.4 Q622.5 660 624.3 666" stroke="#222" stroke-width="1.29" fill="none" />
<path d="M493.4 663 L493.6 725 Q495 752 505 765 Q513 775 522 779.5" stroke="#333" stroke-width="1.66" fill="none" />
<path d="M497.3 668 L497.5 724 Q499 748 507 760 Q514 769 524.8 774" stroke="#888" stroke-width="1.47" fill="none" />
<path d="M626.2 674.4 L626 740 Q625.5 752 618.7 761.3 Q607 778 593.5 785" stroke="#333" stroke-width="1.66" fill="none" />
<path d="M622 674.4 L621.8 738 Q621 750 615 758 Q606 771 596.3 777" stroke="#888" stroke-width="2.02" fill="none" />
<path d="M531.8 785.1 L592 785.1" stroke="#444" stroke-width="1.47" fill="none" />
<path d="M522 779.5 L531.8 785.1" stroke="#444" stroke-width="1.29" fill="none" />
<path d="M508.7 671.6 L508.7 736 Q510 752 516 760 Q520 766.5 524.8 771" stroke="#555" stroke-width="1.29" fill="none" />
<path d="M610.3 671.6 L610.3 743 Q609 757 602 766 Q599 772 596.3 776" stroke="#555" stroke-width="1.29" fill="none" />
<path d="M495.4 669.8 L618.7 669.8" stroke="#777" stroke-width="2.94" fill="none" stroke-linecap="butt"/>
<path d="M512 667.4 Q514 663.4 522 663.2 L599 663.2 Q606 663.6 608 668" stroke="#555" stroke-width="1.29" fill="none" />
<path d="M513.6 671.6 L513.6 690.8 M607.5 671.6 L607.5 690.8" stroke="#555" stroke-width="1.29" fill="none" />
<path d="M514.3 671.6 L519.9 688.4 M606.8 671.6 L603.3 688.4" stroke="#666" stroke-width="1.20" fill="none" />
<path d="M514.3 690.8 L606.5 690.8" stroke="#666" stroke-width="4.23" fill="none" stroke-linecap="butt"/>
<rect x="515" y="694" width="92.5" height="24.6" rx="1" stroke="#444" stroke-width="1.38" fill="none"/>
<rect x="520.6" y="696.8" width="26.6" height="8.4" rx="2.5" stroke="#444" stroke-width="1.47" fill="none"/>
<rect x="523.5" y="698.8" width="21.0" height="4.6" rx="1" stroke="#666" stroke-width="0.92" fill="#999"/>
<path d="M516.5 695.5 L516.5 717.5 M550.5 695.5 L550.5 717.5" stroke="#666" stroke-width="1.10" fill="none" />
<circle cx="523.4" cy="713" r="3.3" stroke="#555" stroke-width="1.38" fill="none"/>
<circle cx="534" cy="712.4" r="2.9" stroke="#555" stroke-width="1.29" fill="none"/>
<circle cx="542.3" cy="712.4" r="2.9" stroke="#555" stroke-width="1.29" fill="none"/>
<path d="M519 706.8 L548 706.8" stroke="#888" stroke-width="0.92" fill="none" />
<rect x="551.5" y="695.5" width="45" height="22.4" fill="#555"/>
<rect x="553" y="697" width="38" height="5.4" fill="#f4f4f4"/>
<rect x="556" y="698.2" width="30" height="3.2" fill="#666"/>
<rect x="553.6" y="707" width="3.6" height="5" fill="#f0f0f0"/>
<rect x="559.35" y="707" width="3.6" height="5" fill="#f0f0f0"/>
<rect x="565.1" y="707" width="3.6" height="5" fill="#f0f0f0"/>
<rect x="570.85" y="707" width="3.6" height="5" fill="#f0f0f0"/>
<rect x="576.6" y="707" width="3.6" height="5" fill="#f0f0f0"/>
<rect x="582.35" y="707" width="3.6" height="5" fill="#f0f0f0"/>
<rect x="588.1" y="707" width="3.6" height="5" fill="#f0f0f0"/>
<rect x="551.5" y="703.4" width="45" height="2" fill="#ddd"/>
<rect x="597.5" y="696" width="8.5" height="15.0" rx="0.5" stroke="#555" stroke-width="1.20" fill="none"/>
<path d="M599 700 L604.5 700 M599 704 L604.5 704 M599 707.5 L604.5 707.5" stroke="#666" stroke-width="1.47" fill="none" />
<rect x="515" y="720" width="28.0" height="23.0" rx="1" stroke="#444" stroke-width="1.56" fill="none"/>
<circle cx="527" cy="729.8" r="6.3" stroke="#444" stroke-width="2.02" fill="none"/>
<circle cx="527" cy="729.8" r="3.3" stroke="#666" stroke-width="1.10" fill="#bbb"/>
<path d="M517 721.5 L522.5 726 M541 721.5 L532 726 M517 741.5 L521.5 735 M541 741.5 L533 735" stroke="#555" stroke-width="1.10" fill="none" />
<rect x="515.5" y="736" width="5" height="6.5" fill="#666"/>
<rect x="536" y="736" width="6.5" height="6.5" fill="#666"/>
<path d="M543.7 720 L543.7 743 M607.5 720 L607.5 743" stroke="#444" stroke-width="1.29" fill="none" />
<path d="M543.7 720 L607.5 720" stroke="#666" stroke-width="1.10" fill="none" />
<path d="M545.8 722 Q553 728.5 575 729.5 Q598 729 601.8 724.8" stroke="#555" stroke-width="1.38" fill="none" />
<path d="M554.3 724.6 Q575 721.2 596.3 724" stroke="#555" stroke-width="1.29" fill="none" />
<path d="M554.3 724.6 Q575 729.4 596.3 724" stroke="#777" stroke-width="1.84" fill="none" />
<path d="M515 743 L606 743" stroke="#222" stroke-width="2.21" fill="none" />
<path d="M515 744.5 Q515.5 756 523.4 757 L599 757 Q606 756 606.8 745.9" stroke="#444" stroke-width="1.29" fill="none" />
<path d="M516.5 754 L523 757" stroke="#444" stroke-width="1.29" fill="none" />
<path d="M531.8 761.3 Q560 760 590 762.6 Q595.8 765 594.9 769.7 Q594 775 589.3 776.7" stroke="#555" stroke-width="1.29" fill="none" />
<path d="M531.8 776.7 L589.3 776.7" stroke="#777" stroke-width="2.39" fill="none" />
<path d="M531.8 779.5 L590 779.5" stroke="#888" stroke-width="0.92" fill="none" />
<path d="M531.8 761.3 Q527 764 527.2 769 Q527.6 774 531.8 776.7" stroke="#777" stroke-width="1.10" fill="none" />
<path d="M498.2 754.3 Q505 770 524.8 781.6" stroke="#555" stroke-width="1.29" fill="none" />
<path d="M195.9 235.5 L230.2 338.5 L284.2 384" stroke="#fff" stroke-width="4.20" fill="none" stroke-linecap="butt"/>
<path d="M195.9 235.5 L230.2 338.5 L284.2 384" stroke="#777" stroke-width="1.50" fill="none" />
<path d="M258 236.9 L281.4 351.8" stroke="#fff" stroke-width="4.20" fill="none" stroke-linecap="butt"/>
<path d="M258 236.9 L281.4 351.8" stroke="#777" stroke-width="1.50" fill="none" />
<path d="M316.8 237.6 L325.5 388.9" stroke="#fff" stroke-width="4.20" fill="none" stroke-linecap="butt"/>
<path d="M316.8 237.6 L325.5 388.9" stroke="#777" stroke-width="1.50" fill="none" />
<path d="M382.7 237.2 L360 342" stroke="#fff" stroke-width="4.20" fill="none" stroke-linecap="butt"/>
<path d="M382.7 237.2 L360 342" stroke="#777" stroke-width="1.50" fill="none" />
<path d="M446.8 240 L457.3 392" stroke="#fff" stroke-width="4.20" fill="none" stroke-linecap="butt"/>
<path d="M446.8 240 L457.3 392" stroke="#777" stroke-width="1.50" fill="none" />
<path d="M512.5 237 L486 363" stroke="#fff" stroke-width="4.20" fill="none" stroke-linecap="butt"/>
<path d="M512.5 237 L486 363" stroke="#777" stroke-width="1.50" fill="none" />
<path d="M578 237 L578 392" stroke="#fff" stroke-width="4.20" fill="none" stroke-linecap="butt"/>
<path d="M578 237 L578 392" stroke="#777" stroke-width="1.50" fill="none" />
<path d="M774.5 237 L774.5 453" stroke="#fff" stroke-width="4.20" fill="none" stroke-linecap="butt"/>
<path d="M774.5 237 L774.5 453" stroke="#777" stroke-width="1.50" fill="none" />
<path d="M216 514.7 L216 602" stroke="#fff" stroke-width="4.20" fill="none" stroke-linecap="butt"/>
<path d="M216 514.7 L216 602" stroke="#777" stroke-width="1.50" fill="none" />
<path d="M294.9 400.8 L263.3 602" stroke="#fff" stroke-width="4.20" fill="none" stroke-linecap="butt"/>
<path d="M294.9 400.8 L263.3 602" stroke="#777" stroke-width="1.50" fill="none" />
<path d="M319.0 412 L316.9 598.7" stroke="#fff" stroke-width="4.20" fill="none" stroke-linecap="butt"/>
<path d="M319.0 412 L316.9 598.7" stroke="#777" stroke-width="1.50" fill="none" />
<path d="M440 400.8 L383.5 598.7" stroke="#fff" stroke-width="4.20" fill="none" stroke-linecap="butt"/>
<path d="M440 400.8 L383.5 598.7" stroke="#777" stroke-width="1.50" fill="none" />
<path d="M454.2 413 L454.5 602.6" stroke="#fff" stroke-width="4.20" fill="none" stroke-linecap="butt"/>
<path d="M454.2 413 L454.5 602.6" stroke="#777" stroke-width="1.50" fill="none" />
<path d="M521 503.3 L493.4 521.4 L503.6 602.6" stroke="#fff" stroke-width="4.20" fill="none" stroke-linecap="butt"/>
<path d="M521 503.3 L493.4 521.4 L503.6 602.6" stroke="#777" stroke-width="1.50" fill="none" />
<path d="M527.5 535 L566.3 602.6" stroke="#fff" stroke-width="4.20" fill="none" stroke-linecap="butt"/>
<path d="M527.5 535 L566.3 602.6" stroke="#777" stroke-width="1.50" fill="none" />
<path d="M581.7 509.5 L620.2 602.6" stroke="#fff" stroke-width="4.20" fill="none" stroke-linecap="butt"/>
<path d="M581.7 509.5 L620.2 602.6" stroke="#777" stroke-width="1.50" fill="none" />
<path d="M588.3 451.4 L634.9 477.6 L682.7 602.6" stroke="#fff" stroke-width="4.20" fill="none" stroke-linecap="butt"/>
<path d="M588.3 451.4 L634.9 477.6 L682.7 602.6" stroke="#777" stroke-width="1.50" fill="none" />
<path d="M614.8 662.8 L696.8 717.4" stroke="#fff" stroke-width="4.20" fill="none" stroke-linecap="butt"/>
<path d="M614.8 662.8 L696.8 717.4" stroke="#777" stroke-width="1.50" fill="none" />
<path d="M527.4 735.6 L527.4 819.9" stroke="#fff" stroke-width="4.20" fill="none" stroke-linecap="butt"/>
<path d="M527.4 735.6 L527.4 819.9" stroke="#777" stroke-width="1.50" fill="none" />
<path d="M580.7 735.6 L580.7 819.9" stroke="#fff" stroke-width="4.20" fill="none" stroke-linecap="butt"/>
<path d="M580.7 735.6 L580.7 819.9" stroke="#777" stroke-width="1.50" fill="none" />
<path d="M596.6 708.3 L649 817.6" stroke="#fff" stroke-width="4.20" fill="none" stroke-linecap="butt"/>
<path d="M596.6 708.3 L649 817.6" stroke="#777" stroke-width="1.50" fill="none" />
<path d="M318.9 402.5 L315.6 412.5 L322.2 412.5 Z" fill="#333"/>
<path d="M454.3 403 L451 413 L457.6 413 Z" fill="#333"/>
<circle cx="177" cy="219" r="10.9" stroke="#444" stroke-width="1.5" fill="#fff"/>
<text transform="translate(177 226.6) scale(0.56 1)" font-size="21.3" text-anchor="middle" fill="#1a1a1a" stroke="#1a1a1a" stroke-width="0.8" vector-effect="non-scaling-stroke">12</text>
<circle cx="206.6" cy="219" r="10.9" stroke="#444" stroke-width="1.5" fill="#fff"/>
<text transform="translate(206.6 226.6) scale(0.56 1)" font-size="21.3" text-anchor="middle" fill="#1a1a1a" stroke="#1a1a1a" stroke-width="0.8" vector-effect="non-scaling-stroke">18</text>
<circle cx="255" cy="219" r="10.9" stroke="#444" stroke-width="1.5" fill="#fff"/>
<text transform="translate(255 226.6) scale(0.56 1)" font-size="21.3" text-anchor="middle" fill="#1a1a1a" stroke="#1a1a1a" stroke-width="0.8" vector-effect="non-scaling-stroke">10</text>
<circle cx="315.5" cy="221" r="10.9" stroke="#444" stroke-width="1.5" fill="#fff"/>
<text transform="translate(315.5 228.6) scale(0.56 1)" font-size="21.3" text-anchor="middle" fill="#1a1a1a" stroke="#1a1a1a" stroke-width="0.8" vector-effect="non-scaling-stroke">13</text>
<circle cx="382.6" cy="221" r="10.9" stroke="#444" stroke-width="1.5" fill="#fff"/>
<text transform="translate(382.6 228.6) scale(0.93 1)" font-size="21.3" text-anchor="middle" fill="#1a1a1a" stroke="#1a1a1a" stroke-width="0.5">1</text>
<circle cx="447.2" cy="223" r="10.9" stroke="#444" stroke-width="1.5" fill="#fff"/>
<text transform="translate(447.2 230.6) scale(0.56 1)" font-size="21.3" text-anchor="middle" fill="#1a1a1a" stroke="#1a1a1a" stroke-width="0.8" vector-effect="non-scaling-stroke">14</text>
<circle cx="513" cy="221.7" r="10.9" stroke="#444" stroke-width="1.5" fill="#fff"/>
<text transform="translate(513 229.29999999999998) scale(0.93 1)" font-size="21.3" text-anchor="middle" fill="#1a1a1a" stroke="#1a1a1a" stroke-width="0.5">2</text>
<circle cx="577.8" cy="221" r="10.9" stroke="#444" stroke-width="1.5" fill="#fff"/>
<text transform="translate(577.8 228.6) scale(0.93 1)" font-size="21.3" text-anchor="middle" fill="#1a1a1a" stroke="#1a1a1a" stroke-width="0.5">3</text>
<circle cx="771.5" cy="223.8" r="10.9" stroke="#444" stroke-width="1.5" fill="#fff"/>
<text transform="translate(771.5 231.4) scale(0.93 1)" font-size="21.3" text-anchor="middle" fill="#1a1a1a" stroke="#1a1a1a" stroke-width="0.5">4</text>
<circle cx="217.3" cy="618.7" r="10.9" stroke="#444" stroke-width="1.5" fill="#fff"/>
<text transform="translate(217.3 626.3000000000001) scale(0.56 1)" font-size="21.3" text-anchor="middle" fill="#1a1a1a" stroke="#1a1a1a" stroke-width="0.8" vector-effect="non-scaling-stroke">11</text>
<circle cx="261" cy="617.3" r="10.9" stroke="#444" stroke-width="1.5" fill="#fff"/>
<text transform="translate(261 624.9) scale(0.93 1)" font-size="21.3" text-anchor="middle" fill="#1a1a1a" stroke="#1a1a1a" stroke-width="0.5">9</text>
<circle cx="315.7" cy="618.7" r="10.9" stroke="#444" stroke-width="1.5" fill="#fff"/>
<text transform="translate(315.7 626.3000000000001) scale(0.56 1)" font-size="21.3" text-anchor="middle" fill="#1a1a1a" stroke="#1a1a1a" stroke-width="0.8" vector-effect="non-scaling-stroke">20</text>
<circle cx="379" cy="616.4" r="10.9" stroke="#444" stroke-width="1.5" fill="#fff"/>
<text transform="translate(379 624.0) scale(0.93 1)" font-size="21.3" text-anchor="middle" fill="#1a1a1a" stroke="#1a1a1a" stroke-width="0.5">9</text>
<circle cx="435.9" cy="619.6" r="10.9" stroke="#444" stroke-width="1.5" fill="#fff"/>
<text transform="translate(435.9 627.2) scale(0.56 1)" font-size="21.3" text-anchor="middle" fill="#1a1a1a" stroke="#1a1a1a" stroke-width="0.8" vector-effect="non-scaling-stroke">15</text>
<circle cx="465.5" cy="619.6" r="10.9" stroke="#444" stroke-width="1.5" fill="#fff"/>
<text transform="translate(465.5 627.2) scale(0.56 1)" font-size="21.3" text-anchor="middle" fill="#1a1a1a" stroke="#1a1a1a" stroke-width="0.8" vector-effect="non-scaling-stroke">17</text>
<circle cx="506.5" cy="618.2" r="10.9" stroke="#444" stroke-width="1.5" fill="#fff"/>
<text transform="translate(506.5 625.8000000000001) scale(0.93 1)" font-size="21.3" text-anchor="middle" fill="#1a1a1a" stroke="#1a1a1a" stroke-width="0.5">8</text>
<circle cx="567" cy="620" r="10.9" stroke="#444" stroke-width="1.5" fill="#fff"/>
<text transform="translate(567 627.6) scale(0.56 1)" font-size="21.3" text-anchor="middle" fill="#1a1a1a" stroke="#1a1a1a" stroke-width="0.8" vector-effect="non-scaling-stroke">16</text>
<circle cx="621.7" cy="619.6" r="10.9" stroke="#444" stroke-width="1.5" fill="#fff"/>
<text transform="translate(621.7 627.2) scale(0.93 1)" font-size="21.3" text-anchor="middle" fill="#1a1a1a" stroke="#1a1a1a" stroke-width="0.5">7</text>
<circle cx="686.4" cy="620" r="10.9" stroke="#444" stroke-width="1.5" fill="#fff"/>
<text transform="translate(686.4 627.6) scale(0.56 1)" font-size="21.3" text-anchor="middle" fill="#1a1a1a" stroke="#1a1a1a" stroke-width="0.8" vector-effect="non-scaling-stroke">19</text>
<circle cx="717.3" cy="724.2" r="10.9" stroke="#444" stroke-width="1.5" fill="#fff"/>
<text transform="translate(717.3 731.8000000000001) scale(0.93 1)" font-size="21.3" text-anchor="middle" fill="#1a1a1a" stroke="#1a1a1a" stroke-width="0.5">5</text>
<circle cx="529.7" cy="834.9" r="10.9" stroke="#444" stroke-width="1.5" fill="#fff"/>
<text transform="translate(529.7 842.5) scale(0.93 1)" font-size="21.3" text-anchor="middle" fill="#1a1a1a" stroke="#1a1a1a" stroke-width="0.5">8</text>
<circle cx="583.9" cy="834.9" r="10.9" stroke="#444" stroke-width="1.5" fill="#fff"/>
<text transform="translate(583.9 842.5) scale(0.93 1)" font-size="21.3" text-anchor="middle" fill="#1a1a1a" stroke="#1a1a1a" stroke-width="0.5">7</text>
<circle cx="659.4" cy="834.9" r="10.9" stroke="#444" stroke-width="1.5" fill="#fff"/>
<text transform="translate(659.4 842.5) scale(0.93 1)" font-size="21.3" text-anchor="middle" fill="#1a1a1a" stroke="#1a1a1a" stroke-width="0.5">6</text>
</svg>
</div></body></html>
